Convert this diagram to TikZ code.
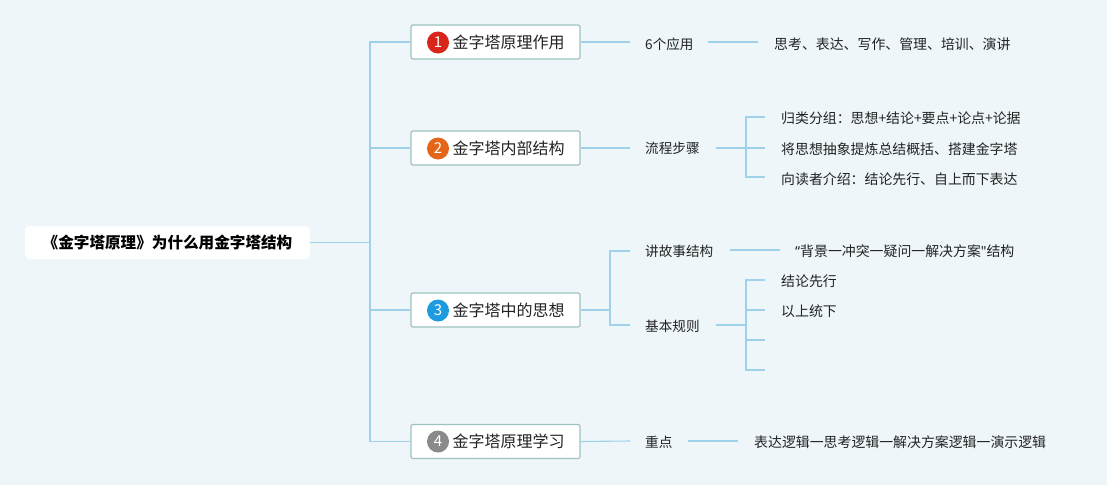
\documentclass[tikz,border=0pt]{standalone}
\usepackage{fontspec}
\setmainfont{Noto Sans CJK SC}
\newfontfamily\latinq{Noto Sans}
\definecolor{bg}{HTML}{EEF6FA}
\definecolor{ln}{HTML}{9DD2EA}
\definecolor{bd}{HTML}{9CC3BF}
\definecolor{txt}{HTML}{222222}
\definecolor{c1}{HTML}{D8261B}
\definecolor{c2}{HTML}{E4661B}
\definecolor{c3}{HTML}{1E9BE0}
\definecolor{c4}{HTML}{8A8A8A}
\begin{document}
\begin{tikzpicture}[x=1pt,y=-1pt,
  conn/.style={draw=ln,line width=1.1pt},
  mainbox/.style={draw=bd,line width=1.2pt,fill=white,rounded corners=2pt,minimum width=169pt,minimum height=34pt,inner sep=0pt},
  badge/.style={circle,fill=#1,text=white,minimum size=22pt,inner sep=0pt,font=\fontsize{15}{15}\selectfont},
  maintext/.style={anchor=west,inner sep=0pt,text=txt,font=\fontsize{16}{16}\selectfont},
  lab/.style={anchor=west,inner sep=0pt,text=txt,font=\fontsize{13.6}{14}\selectfont},
  leaf/.style={anchor=west,inner sep=0pt,text=txt,font=\fontsize{13.9}{14}\selectfont}]
\useasboundingbox (0,0) rectangle (1107,485);
\fill[bg] (0,0) rectangle (1107,485);
% root
\node[fill=white,rounded corners=4pt,minimum width=285pt,minimum height=33pt,inner sep=0pt,text=black,font=\bfseries\fontsize{15.6}{16}\selectfont] (root) at (167.5,242.5) {《金字塔原理》为什么用金字塔结构};
\coordinate (trunk) at (370,242.5);
% main nodes
\node[mainbox] (m1) at (495.5,42) {};
\node[mainbox] (m2) at (495.5,148) {};
\node[mainbox] (m3) at (495.5,310) {};
\node[mainbox] (m4) at (495.5,441.5) {};
\node[badge=c1] (b1) at (438,42.5) {1};
\node[badge=c2] (b2) at (438,148.5) {2};
\node[badge=c3] (b3) at (438,310.5) {3};
\node[badge=c4] (b4) at (438,441.5) {4};
\node[maintext] (t1) at (452.5,42.5) {金字塔原理作用};
\node[maintext] (t2) at (452.5,148.5) {金字塔内部结构};
\node[maintext] (t3) at (452.5,310.5) {金字塔中的思想};
\node[maintext] (t4) at (452.5,441.5) {金字塔原理学习};
% root connectors
\draw[conn] (root.east) -- (trunk);
\draw[conn] (m1.west) -| (trunk) |- (m4.west);
\draw[conn] (trunk) |- (m2.west);
\draw[conn] (trunk) |- (m3.west);
% level 2 labels
\node[lab] (l1) at (645,44) {6个应用};
\node[lab] (l2) at (645,148.5) {流程步骤};
\node[lab] (l3a) at (645,251) {讲故事结构};
\node[lab] (l3b) at (645,326) {基本规则};
\node[lab] (l4) at (645,442) {重点};
\coordinate (e1) at (630,42);
\coordinate (e2) at (630,148);
\coordinate (e3a) at (630,251);
\coordinate (e3b) at (630,325);
\coordinate (e4) at (630,441);
\coordinate (s3) at (610,310);
\draw[conn] (m1.east) -- (e1);
\draw[conn] (m2.east) -- (e2);
\draw[conn] (m4.east) -- (e4);
\draw[conn] (m3.east) -- (s3);
\draw[conn] (s3) |- (e3a);
\draw[conn] (s3) |- (e3b);
% node 1 leaf
\node[leaf] (f1) at (774,44) {思考、表达、写作、管理、培训、演讲};
\draw[conn] (708,42) coordinate (f1s) -- (758,42) coordinate (f1e);
% node 2 leaves
\coordinate (g2s) at (716,148);
\coordinate (g2) at (746,148);
\node[leaf] (f2a) at (781,118.5) {归类分组：思想+结论+要点+论点+论据};
\node[leaf] (f2b) at (781,149) {将思想抽象提炼总结概括、搭建金字塔};
\node[leaf] (f2c) at (781,179.5) {向读者介绍：结论先行、自上而下表达};
\coordinate (h2a) at (765,117);
\coordinate (h2b) at (765,148);
\coordinate (h2c) at (765,177);
\draw[conn] (g2s) -- (g2);
\draw[conn] (g2) |- (h2a);
\draw[conn] (g2) |- (h2c);
\draw[conn] (g2) -- (h2b);
% node 3 leaves
\node[leaf] (f3a) at (795,251) {{\latinq “}背景一冲突一疑问一解决方案{\latinq "}结构};
\draw[conn] (730,250) coordinate (f3s) -- (780,250) coordinate (f3e);
\coordinate (g3s) at (716,325);
\coordinate (g3) at (746,325);
\node[leaf] (f3b) at (781,281) {结论先行};
\node[leaf] (f3c) at (781,311) {以上统下};
\coordinate (h3a) at (765,280);
\coordinate (h3b) at (765,310);
\coordinate (h3c) at (765,340);
\coordinate (h3d) at (765,370);
\draw[conn,line width=1.8pt] (g3s) -- (g3);
\draw[conn] (g3) |- (h3a);
\draw[conn] (g3) |- (h3d);
\draw[conn] (746,310) -- (h3b);
\draw[conn] (746,340) -- (h3c);
% node 4 leaf
\node[leaf] (f4) at (754,442) {表达逻辑一思考逻辑一解决方案逻辑一演示逻辑};
\draw[conn] (688,441) coordinate (f4s) -- (738,441) coordinate (f4e);
\end{tikzpicture}
\end{document}
